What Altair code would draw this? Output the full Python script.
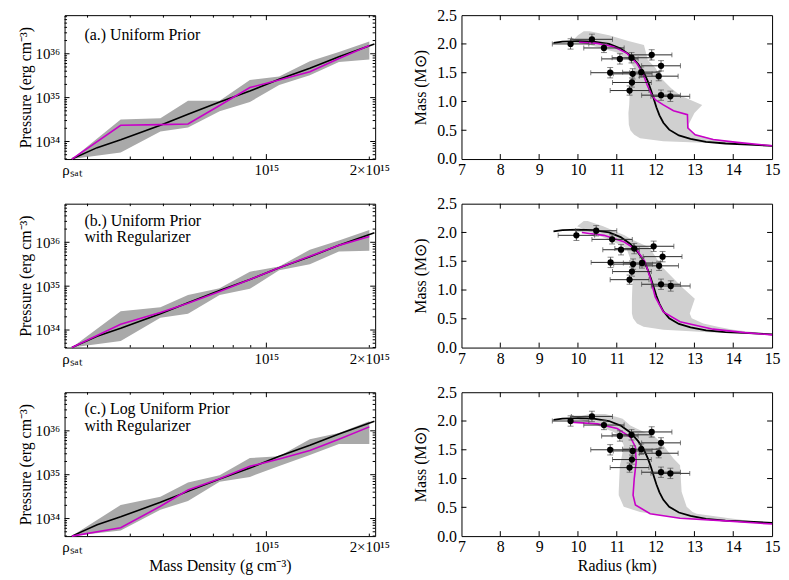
import altair as alt
import pandas as pd

FONT = "Liberation Serif"
W, H = 313, 145

# ---------------- Left column: pressure (log10, erg cm^-3) vs mass density (g cm^-3) ----------------
rho_grid = [2.7e14, 3.75e14, 4.9e14, 5.9e14, 7.3e14, 8.95e14, 1.09e15, 1.34e15, 1.63e15, 2.0e15]
rho_true = [2.7e14, 3.2e14, 3.75e14, 4.9e14, 5.9e14, 7.3e14, 8.95e14, 1.09e15, 1.34e15, 1.63e15, 2.07e15]
logP_true = [33.60, 33.86, 34.04, 34.37, 34.62, 34.90, 35.15, 35.42, 35.67, 35.93, 36.22]

logP_fit_a = [33.60, 34.37, 34.385, 34.40, 34.82, 35.23, 35.40, 35.59, 35.89, 36.19]
logP_lo_a = [33.60, 33.75, 34.23, 34.32, 34.69, 34.90, 35.29, 35.51, 35.81, 35.87]
logP_hi_a = [33.60, 34.50, 34.53, 34.93, 34.93, 35.40, 35.48, 35.83, 36.04, 36.28]

logP_fit_b = [33.60, 34.13, 34.40, 34.61, 34.88, 35.15, 35.42, 35.68, 35.93, 36.13]
logP_lo_b = [33.60, 33.75, 34.28, 34.37, 34.80, 34.94, 35.36, 35.50, 35.79, 35.81]
logP_hi_b = [33.60, 34.43, 34.52, 34.80, 34.95, 35.33, 35.45, 35.83, 36.04, 36.28]

logP_fit_c = [33.60, 33.79, 34.28, 34.65, 34.91, 35.19, 35.36, 35.55, 35.81, 36.09]
logP_lo_c = [33.60, 33.73, 34.20, 34.40, 34.84, 34.95, 35.20, 35.45, 35.70, 35.70]
logP_hi_c = [33.60, 34.31, 34.50, 34.82, 34.99, 35.38, 35.42, 35.81, 35.95, 36.22]

RHO_DOM = [2.57e14, 2.08e15]
P_DOM = [10 ** 33.60, 10 ** 36.88]
rho_label_vals = [2.7e14, 1e15, 2e15]
P_label_vals = [1e34, 1e35, 1e36]
rho_minor = [3e14, 4e14, 5e14, 6e14, 7e14, 8e14, 9e14, 2e15]
P_minor = [k * 10 ** n for n in (33, 34, 35, 36) for k in range(2, 10) if P_DOM[0] <= k * 10 ** n <= P_DOM[1]]

# ---------------- Right column: mass-radius ----------------
true_R = [9.37, 9.6, 10.0, 10.4, 10.8, 11.1, 11.35, 11.55, 11.7, 11.8, 11.88, 11.95, 12.02, 12.1, 12.2, 12.35, 12.6, 12.9, 13.3, 13.8, 14.4, 15.0]
true_M = [2.02, 2.04, 2.05, 2.04, 2.00, 1.92, 1.80, 1.65, 1.50, 1.35, 1.20, 1.05, 0.90, 0.76, 0.63, 0.51, 0.41, 0.35, 0.30, 0.27, 0.25, 0.23]

fit_R_a = [10.03, 10.5, 10.92, 11.26, 11.52, 11.67, 11.78, 11.88, 11.99, 12.2, 12.46, 12.82, 12.83, 13.02, 13.48, 14.1, 15.0]
fit_M_a = [2.03, 2.01, 1.95, 1.84, 1.66, 1.49, 1.29, 1.14, 1.03, 0.94, 0.84, 0.77, 0.54, 0.42, 0.34, 0.29, 0.23]
fit_R_b = [10.1, 10.67, 11.18, 11.52, 11.73, 11.88, 11.99, 12.2, 12.63, 13.48, 14.3, 15.0]
fit_M_b = [2.00, 1.95, 1.84, 1.69, 1.49, 1.17, 0.88, 0.62, 0.45, 0.32, 0.26, 0.22]
fit_R_c = [9.81, 10.5, 11.01, 11.35, 11.48, 11.50, 11.45, 11.42, 11.48, 11.86, 12.63, 13.91, 15.0]
fit_M_c = [1.98, 1.95, 1.87, 1.72, 1.55, 1.29, 1.00, 0.71, 0.54, 0.39, 0.31, 0.26, 0.21]

band_M_a = [2.22, 2.15, 2.05, 1.98, 1.85, 1.72, 1.58, 1.40, 1.23, 1.10, 0.94, 0.80, 0.60, 0.50, 0.42, 0.36, 0.31, 0.28, 0.25]
band_lo_a = [10.15, 10.0, 9.85, 10.3, 11.0, 11.3, 11.45, 11.4, 11.35, 11.33, 11.32, 11.3, 11.31, 11.35, 11.45, 11.6, 12.2, 13.4, 14.5]
band_hi_a = [10.3, 10.8, 11.3, 11.7, 11.75, 11.8, 12.0, 12.15, 12.4, 12.65, 13.2, 13.0, 12.85, 12.88, 13.05, 13.4, 13.9, 14.2, 14.6]

band_M_b = [2.20, 2.11, 1.95, 1.89, 1.75, 1.72, 1.40, 1.03, 0.85, 0.59, 0.51, 0.42, 0.36, 0.31, 0.26, 0.24]
band_lo_b = [10.15, 9.98, 10.5, 10.75, 11.18, 11.25, 11.43, 11.4, 11.39, 11.39, 11.42, 11.52, 11.69, 12.2, 13.48, 14.8]
band_hi_b = [10.25, 10.65, 11.2, 11.35, 11.8, 11.86, 12.17, 12.71, 13.01, 12.88, 12.93, 13.23, 13.6, 14.0, 14.6, 15.0]

band_M_c = [2.12, 2.07, 2.04, 1.92, 1.81, 1.75, 1.58, 1.35, 1.23, 0.77, 0.71, 0.51, 0.42, 0.39, 0.31, 0.25, 0.22]
band_lo_c = [10.3, 9.98, 9.98, 10.5, 10.92, 11.05, 11.18, 11.12, 11.08, 11.05, 11.05, 11.18, 11.6, 11.9, 12.63, 13.9, 15.0]
band_hi_c = [10.7, 11.0, 11.15, 11.35, 11.7, 11.95, 12.2, 12.46, 12.63, 12.67, 12.7, 12.8, 12.95, 13.06, 13.9, 14.6, 15.0]

obs_R_ac = [9.81, 10.36, 10.67, 11.08, 11.38, 11.90, 12.14, 10.83, 11.41, 11.63, 12.08, 11.39, 11.33, 12.14, 12.38]
obs_M_ac = [2.00, 2.08, 1.93, 1.74, 1.76, 1.81, 1.62, 1.50, 1.48, 1.51, 1.44, 1.33, 1.19, 1.11, 1.09]
obs_R_b = [9.96, 10.47, 10.88, 11.11, 11.45, 11.95, 12.18, 10.84, 11.42, 11.65, 12.09, 11.39, 11.33, 12.14, 12.39]
obs_M_b = [1.95, 2.03, 1.88, 1.70, 1.72, 1.76, 1.58, 1.48, 1.45, 1.47, 1.42, 1.32, 1.18, 1.10, 1.07]
obs_Rerr = [0.47, 0.53, 0.52, 0.47, 0.50, 0.52, 0.50, 0.50, 0.50, 0.48, 0.50, 0.50, 0.50, 0.50, 0.50]
obs_Merr = [0.09, 0.09, 0.08, 0.09, 0.09, 0.09, 0.09, 0.09, 0.09, 0.09, 0.08, 0.08, 0.08, 0.09, 0.09]

panel_labels = [["(a.) Uniform Prior"],
                ["(b.) Uniform Prior", "with Regularizer"],
                ["(c.) Log Uniform Prior", "with Regularizer"]]

MAGENTA = "#c800c8"
XLAB = "datum.value < 5e14 ? 'ρₛₐₜ' : (datum.value < 1.5e15 ? '10¹⁵' : '2×10¹⁵')"
YLAB = "datum.value < 5e34 ? '10³⁴' : (datum.value < 5e35 ? '10³⁵' : '10³⁶')"


def make_channels(xs, ys, xaxis, yaxis, xtitle, ytitle):
    def X(field):
        return alt.X(field, scale=xs, axis=xaxis, title=xtitle)

    def Y(field):
        return alt.Y(field, scale=ys, axis=yaxis, title=ytitle)
    return X, Y


def rule_ticks(vals, channel, enc_fn, side, length):
    df = pd.DataFrame({"v": vals})
    base = alt.Chart(df).mark_rule(color="black", strokeWidth=1)
    if channel == "x":
        enc = dict(x=enc_fn("v:Q"))
        if side == "bottom":
            enc.update(y=alt.value(H), y2=alt.value(H - length))
        else:
            enc.update(y=alt.value(0), y2=alt.value(length))
    else:
        enc = dict(y=enc_fn("v:Q"))
        if side == "left":
            enc.update(x=alt.value(0), x2=alt.value(length))
        else:
            enc.update(x=alt.value(W), x2=alt.value(W - length))
    return base.encode(**enc)


def text_layers(lines):
    out = []
    y0 = 20 if len(lines) == 1 else 17
    for i, line in enumerate(lines):
        out.append(alt.Chart(pd.DataFrame({"t": [line]})).mark_text(
            align="left", baseline="middle", font=FONT, fontSize=16, color="black"
        ).encode(text="t:N", x=alt.value(20), y=alt.value(y0 + 17 * i)))
    return out


def eos_panel(fit, lo, hi, lines, bottom):
    xs = alt.Scale(type="log", domain=RHO_DOM, nice=False)
    ys = alt.Scale(type="log", domain=P_DOM, nice=False)
    xaxis = alt.Axis(values=rho_label_vals, labelExpr=XLAB, ticks=False, domain=False, grid=False,
                     labelPadding=4, labelFontSize=15, labelFlush=False, labelOverlap=False, titlePadding=3)
    yaxis = alt.Axis(values=P_label_vals, labelExpr=YLAB, ticks=False, domain=False, grid=False,
                     labelPadding=5, labelFontSize=15, labelOverlap=False, titlePadding=2)
    X, Y = make_channels(xs, ys, xaxis, yaxis,
                         "Mass Density (g cm⁻³)" if bottom else None, "Pressure (erg cm⁻³)")
    band_df = pd.DataFrame({"rho": rho_grid, "lo": [10 ** v for v in lo], "hi": [10 ** v for v in hi]})
    band = alt.Chart(band_df).mark_area(color="#a9a9a9", opacity=1).encode(
        x=X("rho:Q"), y=Y("lo:Q"), y2="hi:Q")
    true_df = pd.DataFrame({"rho": rho_true, "P": [10 ** v for v in logP_true]})
    true_line = alt.Chart(true_df).mark_line(color="black", strokeWidth=1.6).encode(
        x=X("rho:Q"), y=Y("P:Q"))
    fit_df = pd.DataFrame({"rho": rho_grid, "P": [10 ** v for v in fit]})
    fit_line = alt.Chart(fit_df).mark_line(color=MAGENTA, strokeWidth=1.6).encode(
        x=X("rho:Q"), y=Y("P:Q"))
    ticks = [
        rule_ticks([1e15], "x", X, "bottom", 5), rule_ticks([1e15], "x", X, "top", 5),
        rule_ticks(rho_minor, "x", X, "bottom", 2.5), rule_ticks(rho_minor, "x", X, "top", 2.5),
        rule_ticks(P_label_vals, "y", Y, "left", 5), rule_ticks(P_label_vals, "y", Y, "right", 5),
        rule_ticks(P_minor, "y", Y, "left", 2.5), rule_ticks(P_minor, "y", Y, "right", 2.5),
    ]
    return alt.layer(band, true_line, fit_line, *ticks, *text_layers(lines)).properties(width=W, height=H)


def mr_panel(fitR, fitM, bM, blo, bhi, oR, oM, bottom):
    xs = alt.Scale(domain=[7, 15], nice=False, zero=False)
    ys = alt.Scale(domain=[0, 2.5], nice=False, zero=False)
    xaxis = alt.Axis(values=list(range(7, 16)), format="d", ticks=False, domain=False, grid=False,
                     labelPadding=3, labelFontSize=16, labelFlush=False, labelOverlap=False, titlePadding=3)
    yaxis = alt.Axis(values=[0, 0.5, 1.0, 1.5, 2.0, 2.5], format=".1f", ticks=False, domain=False, grid=False,
                     labelPadding=5, labelFontSize=16, labelOverlap=False, titlePadding=8)
    X, Y = make_channels(xs, ys, xaxis, yaxis, "Radius (km)" if bottom else None, "Mass (M⊙)")
    band_df = pd.DataFrame({"M": bM, "lo": blo, "hi": bhi})
    band = alt.Chart(band_df).mark_area(orient="horizontal", color="#d0d0d0", opacity=1).encode(
        y=Y("M:Q"), x=X("lo:Q"), x2="hi:Q")
    true_df = pd.DataFrame({"R": true_R, "M": true_M, "i": list(range(len(true_R)))})
    true_line = alt.Chart(true_df).mark_line(color="black", strokeWidth=1.8).encode(
        x=X("R:Q"), y=Y("M:Q"), order="i:Q")
    fit_df = pd.DataFrame({"R": fitR, "M": fitM, "i": list(range(len(fitR)))})
    fit_line = alt.Chart(fit_df).mark_line(color=MAGENTA, strokeWidth=1.6).encode(
        x=X("R:Q"), y=Y("M:Q"), order="i:Q")
    pts = pd.DataFrame({"R": oR, "M": oM})
    pts["Rlo"] = [r - e for r, e in zip(oR, obs_Rerr)]
    pts["Rhi"] = [r + e for r, e in zip(oR, obs_Rerr)]
    pts["Mlo"] = [m - e for m, e in zip(oM, obs_Merr)]
    pts["Mhi"] = [m + e for m, e in zip(oM, obs_Merr)]
    base = alt.Chart(pts)
    hbar = base.mark_rule(color="#2a2a2a", strokeWidth=1).encode(x=X("Rlo:Q"), x2="Rhi:Q", y=Y("M:Q"))
    vbar = base.mark_rule(color="#555555", strokeWidth=1).encode(x=X("R:Q"), y=Y("Mlo:Q"), y2="Mhi:Q")
    caps = []
    for f in ("Mlo", "Mhi"):
        caps.append(base.mark_tick(orient="horizontal", size=6, thickness=1, color="#555555").encode(
            x=X("R:Q"), y=Y(f + ":Q")))
    for f in ("Rlo", "Rhi"):
        caps.append(base.mark_tick(orient="vertical", size=5, thickness=1, color="#444444").encode(
            x=X(f + ":Q"), y=Y("M:Q")))
    dots = base.mark_circle(size=40, color="black", opacity=1).encode(x=X("R:Q"), y=Y("M:Q"))
    xt = list(range(8, 15))
    yt = [0.5, 1.0, 1.5, 2.0]
    ticks = [
        rule_ticks(xt, "x", X, "bottom", 5), rule_ticks(xt, "x", X, "top", 5),
        rule_ticks(yt, "y", Y, "left", 5), rule_ticks(yt, "y", Y, "right", 5),
    ]
    return alt.layer(band, true_line, fit_line, hbar, vbar, *caps, dots, *ticks).properties(width=W, height=H)


pa = eos_panel(logP_fit_a, logP_lo_a, logP_hi_a, panel_labels[0], False)
pb = eos_panel(logP_fit_b, logP_lo_b, logP_hi_b, panel_labels[1], False)
pc = eos_panel(logP_fit_c, logP_lo_c, logP_hi_c, panel_labels[2], True)
ma = mr_panel(fit_R_a, fit_M_a, band_M_a, band_lo_a, band_hi_a, obs_R_ac, obs_M_ac, False)
mb = mr_panel(fit_R_b, fit_M_b, band_M_b, band_lo_b, band_hi_b, obs_R_b, obs_M_b, False)
mc = mr_panel(fit_R_c, fit_M_c, band_M_c, band_lo_c, band_hi_c, obs_R_ac, obs_M_ac, True)

chart = alt.concat(
    pa, ma, pb, mb, pc, mc, columns=2,
    spacing={"row": 45, "column": 87},
    bounds="flush",
    padding={"left": 8, "top": -4, "right": 0, "bottom": 0},
).configure_view(
    stroke="black", strokeWidth=1
).configure_axis(
    labelFont=FONT, titleFont=FONT, labelColor="black", titleColor="black",
    titleFontWeight="normal", titleFontSize=16,
)

chart.save("out.html", embed_options={"renderer": "svg", "actions": False})
